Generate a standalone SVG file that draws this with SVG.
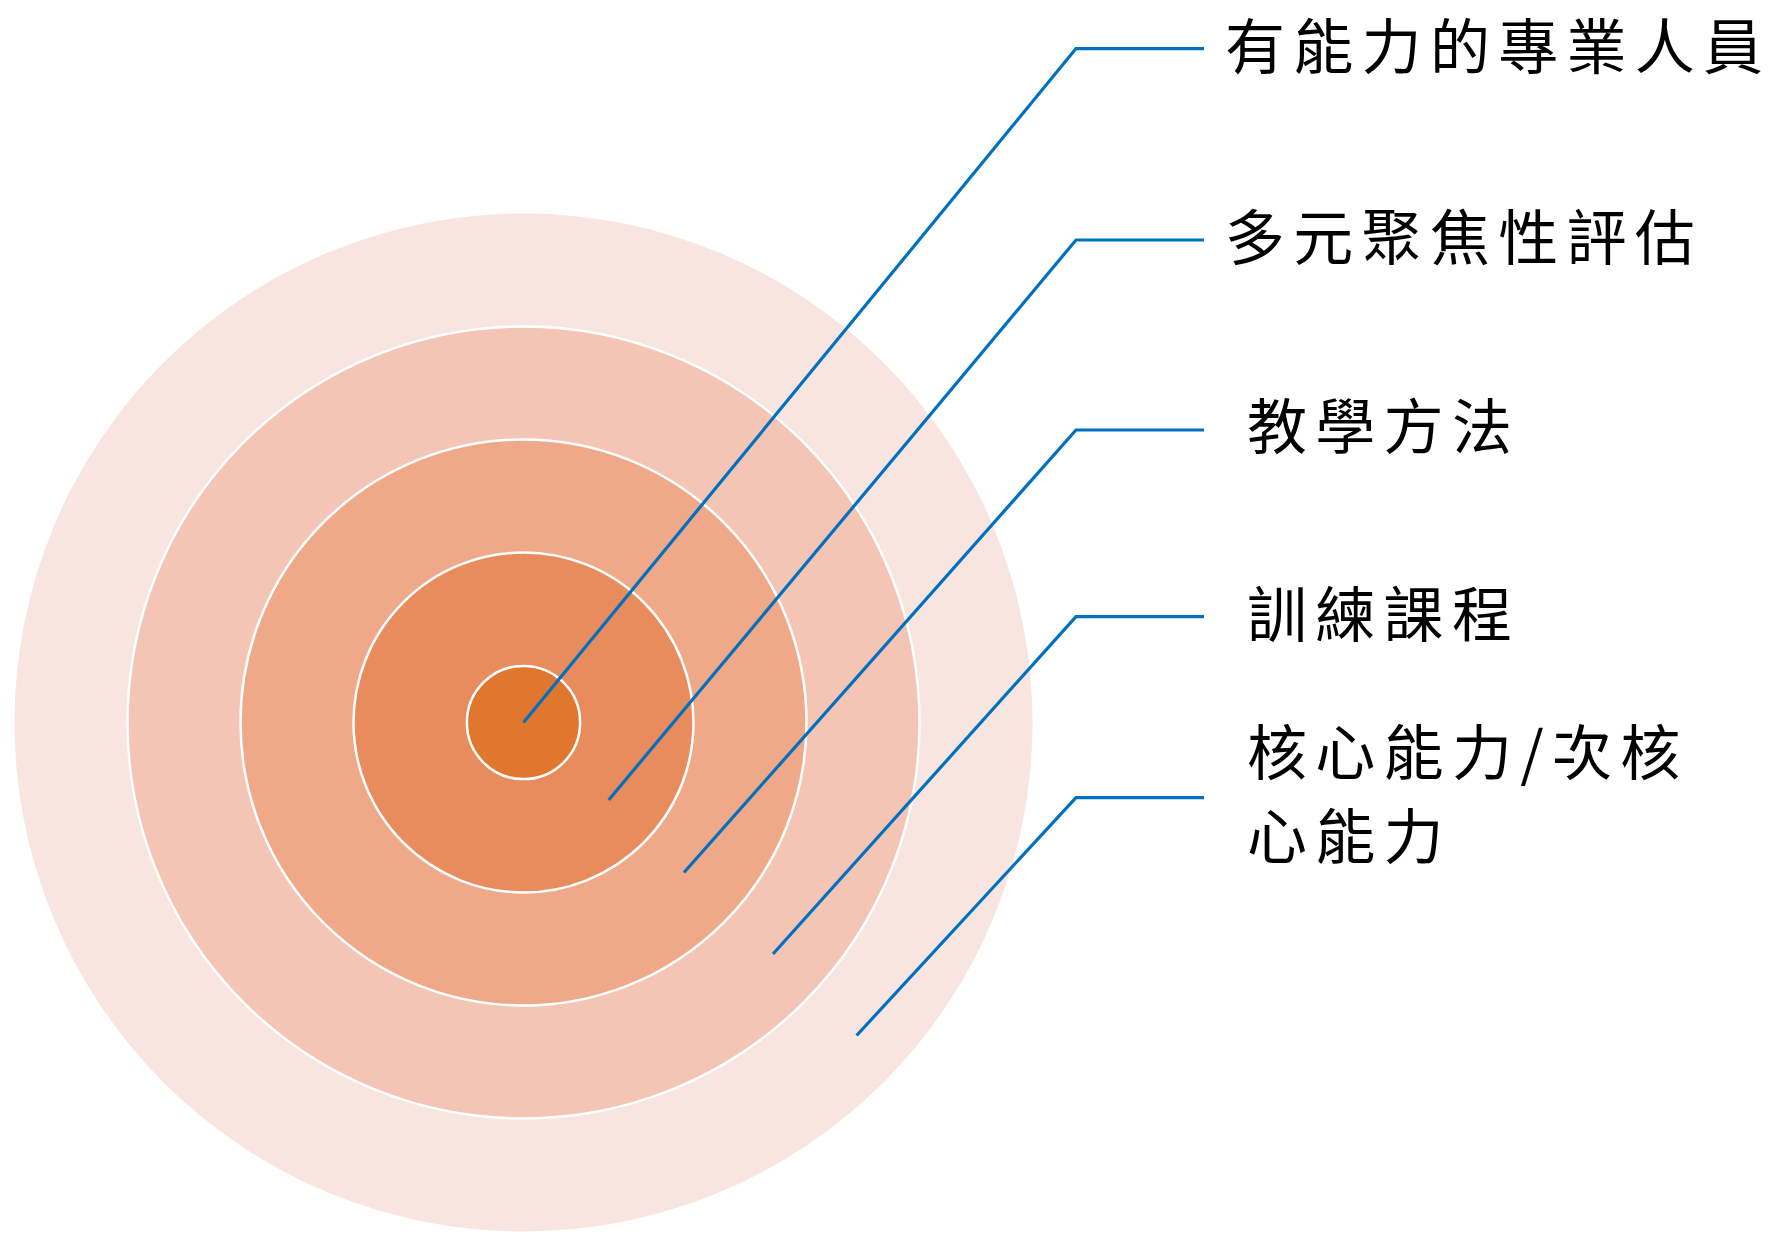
<svg xmlns="http://www.w3.org/2000/svg" width="1774" height="1236" viewBox="0 0 1774 1236">
<style>
.ring{stroke:#FFFFFF;stroke-width:2.5}
.conn{fill:none;stroke:#0070C0;stroke-width:3.2;stroke-linejoin:miter}
.lbl{font-family:"Noto Sans CJK TC","Noto Sans CJK SC",sans-serif;font-size:60px;fill:#000000;letter-spacing:8.3px}
</style>
<rect width="1774" height="1236" fill="#FFFFFF"/>
<g id="rings">
<circle id="ring5" cx="523.5" cy="722.5" r="509" fill="#F9E5DF"/>
<circle id="ring4" class="ring" cx="523.5" cy="722.5" r="396" fill="#F4C5B4"/>
<circle id="ring3" class="ring" cx="523.5" cy="722.5" r="283" fill="#EFA888"/>
<circle id="ring2" class="ring" cx="523.5" cy="722.5" r="170" fill="#E88B5D"/>
<circle id="ring1" class="ring" cx="523.5" cy="722.5" r="56.6" fill="#E1762E"/>
</g>
<g id="connectors">
<polyline class="conn" points="523.5,722.5 1076,48.6 1204,48.6"/>
<polyline class="conn" points="608.7,800 1076,240 1204,240"/>
<polyline class="conn" points="684,872.5 1076,430 1204,430"/>
<polyline class="conn" points="773,954 1076,616.6 1204,616.6"/>
<polyline class="conn" points="856.6,1035.5 1076,797.6 1204,797.6"/>
</g>
<g id="label1"><text class="lbl" x="1225" y="69">有能力的專業人員</text></g>
<g id="label2"><text class="lbl" x="1225" y="260">多元聚焦性評估</text></g>
<g id="label3"><text class="lbl" x="1247" y="449">教學方法</text></g>
<g id="label4"><text class="lbl" x="1247" y="637">訓練課程</text></g>
<g id="label5"><text class="lbl" x="1247" y="775">核心能力/次核</text><text class="lbl" x="1247" y="859">心能力</text></g>
</svg>
